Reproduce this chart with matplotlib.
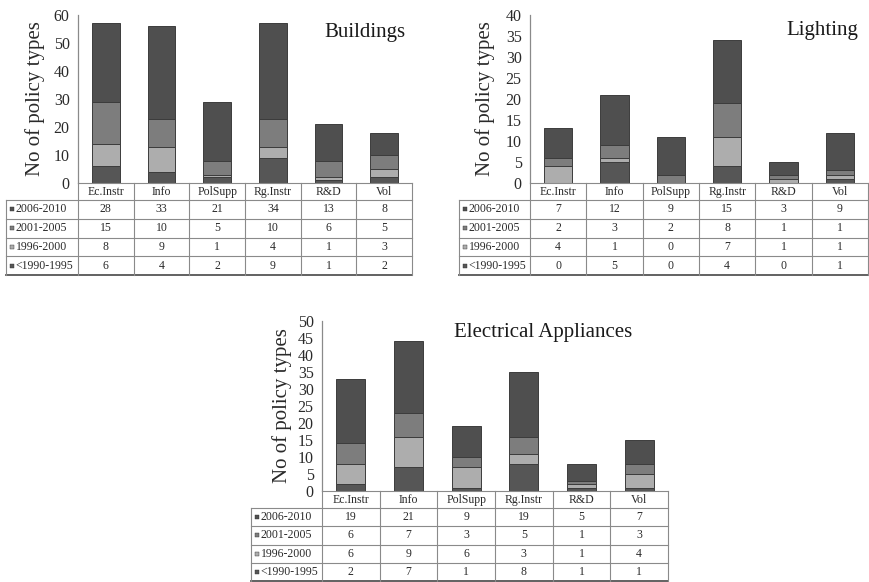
import matplotlib
matplotlib.use("Agg")
import matplotlib.pyplot as plt

plt.rcParams['font.family'] = ['Liberation Serif', 'DejaVu Serif']

categories = ["Ec.Instr", "Info", "PolSupp", "Rg.Instr", "R&D", "Vol"]
periods = ["2006-2010", "2001-2005", "1996-2000", "<1990-1995"]  # table order, top to bottom

# Buildings
bld_2006_2010 = [28, 33, 21, 34, 13, 8]
bld_2001_2005 = [15, 10, 5, 10, 6, 5]
bld_1996_2000 = [8, 9, 1, 4, 1, 3]
bld_1990_1995 = [6, 4, 2, 9, 1, 2]

# Lighting
lgt_2006_2010 = [7, 12, 9, 15, 3, 9]
lgt_2001_2005 = [2, 3, 2, 8, 1, 1]
lgt_1996_2000 = [4, 1, 0, 7, 1, 1]
lgt_1990_1995 = [0, 5, 0, 4, 0, 1]

# Electrical appliances
app_2006_2010 = [19, 21, 9, 19, 5, 7]
app_2001_2005 = [6, 7, 3, 5, 1, 3]
app_1996_2000 = [6, 9, 6, 3, 1, 4]
app_1990_1995 = [2, 7, 1, 8, 1, 1]

period_colors = ["#4f4f4f", "#7d7d7d", "#adadad", "#565656"]

W, H = 870, 582


def rect(l, t, r, b):
    return [l / W, 1 - b / H, (r - l) / W, (b - t) / H]


panels = [
    dict(title="Buildings", series=[bld_2006_2010, bld_2001_2005, bld_1996_2000, bld_1990_1995],
         ymax=60, step=10, ax_x=78, right=412, zero=183, top=15, tleft=6, tbottom=275,
         title_xy=(365, 33), ylab_x=35),
    dict(title="Lighting", series=[lgt_2006_2010, lgt_2001_2005, lgt_1996_2000, lgt_1990_1995],
         ymax=40, step=5, ax_x=530, right=868, zero=183, top=15, tleft=459, tbottom=275,
         title_xy=(822, 31), ylab_x=485),
    dict(title="Electrical Appliances", series=[app_2006_2010, app_2001_2005, app_1996_2000, app_1990_1995],
         ymax=50, step=5, ax_x=322, right=668, zero=491, top=321, tleft=251, tbottom=581,
         title_xy=(543, 332), ylab_x=282),
]

fig = plt.figure(figsize=(W / 100, H / 100), dpi=100)
fig.patch.set_facecolor("white")

line_col = "#8a8a8a"
text_col = "#2a2a2a"

for p in panels:
    n = len(categories)
    ax = fig.add_axes(rect(p["ax_x"], p["top"], p["right"], p["zero"]))
    xs = [i + 0.5 for i in range(n)]
    bottom = [0] * n
    # stack from the oldest period upwards
    for vals, col in zip(reversed(p["series"]), reversed(period_colors)):
        ax.bar(xs, vals, width=0.5, bottom=bottom, color=col,
               edgecolor="#3c3c3c", linewidth=0.7)
        bottom = [b + v for b, v in zip(bottom, vals)]
    ax.set_xlim(0, n)
    ax.set_ylim(0, p["ymax"])
    ax.set_yticks(range(0, p["ymax"] + 1, p["step"]))
    ax.set_xticks([])
    for s in ("top", "right", "bottom"):
        ax.spines[s].set_visible(False)
    ax.spines["left"].set_color(line_col)
    ax.spines["left"].set_linewidth(0.9)
    ax.tick_params(axis="y", length=0, pad=6, labelsize=11.5, labelcolor=text_col)
    ax.patch.set_alpha(0)

    fig.text(p["title_xy"][0] / W, 1 - p["title_xy"][1] / H, p["title"],
             fontsize=15, ha="center", va="center", color="#1a1a1a")
    fig.text(p["ylab_x"] / W, 1 - ((p["top"] + p["zero"]) / 2) / H, "No of policy types",
             rotation=90, fontsize=15, ha="center", va="center", color="#2a2a2a")

    # data table beneath the bars
    colw = (p["right"] - p["ax_x"]) / n
    labw = (p["ax_x"] - p["tleft"]) / colw
    tab_h = p["tbottom"] - p["zero"]
    tax = fig.add_axes(rect(p["tleft"], p["zero"], p["right"], p["tbottom"]))
    tax.set_xlim(-labw, n)
    tax.set_ylim(tab_h, 0)
    tax.axis("off")
    hb = 17.0
    rh = (tab_h - hb) / len(periods)
    kw = dict(color=line_col, linewidth=0.8, clip_on=False)
    tax.plot([0, n], [0, 0], **kw)
    for k in range(len(periods)):
        y = hb + k * rh
        tax.plot([-labw, n], [y, y], **kw)
    tax.plot([-labw, n], [tab_h, tab_h], color="#555555", linewidth=1.3, clip_on=False)
    tax.plot([-labw, -labw], [hb, tab_h], **kw)
    for i in range(n + 1):
        tax.plot([i, i], [0, tab_h], **kw)

    for i, c in enumerate(categories):
        tax.text(i + 0.5, hb / 2 + 0.5, c, ha="center", va="center", fontsize=8.5, color=text_col)
    for k, (lab, vals, col) in enumerate(zip(periods, p["series"], period_colors)):
        yc = hb + (k + 0.5) * rh
        tax.plot([-labw + 6 / colw], [yc], marker="s", markersize=3.5, color=col,
                 markeredgecolor="#333333", markeredgewidth=0.3, clip_on=False)
        tax.text(-labw + 9.5 / colw, yc, lab, ha="left", va="center", fontsize=8.5, color=text_col)
        for i, v in enumerate(vals):
            tax.text(i + 0.5, yc, str(v), ha="center", va="center", fontsize=8.5, color=text_col)

fig.savefig("out.png", dpi=100, facecolor="white")
